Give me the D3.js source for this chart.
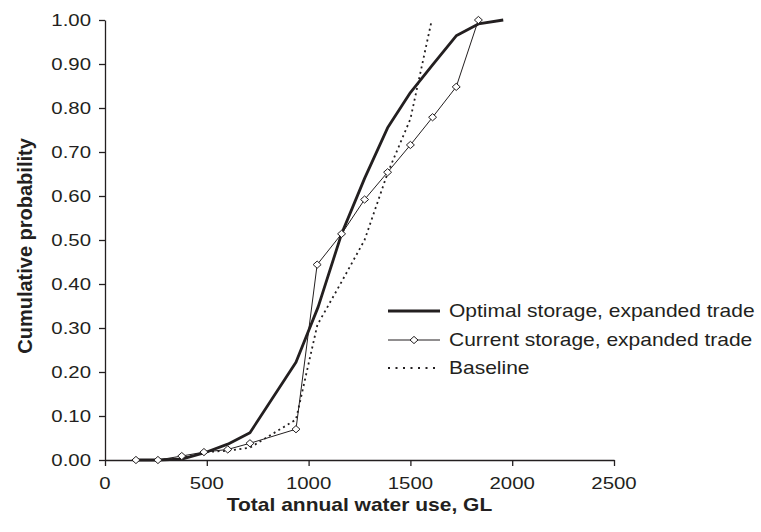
<!DOCTYPE html>
<html><head><meta charset="utf-8">
<script src="https://cdn.jsdelivr.net/npm/d3@7/dist/d3.min.js"></script>
<style>
html,body{margin:0;padding:0;background:#fff;}
text{font-family:"Liberation Sans",Arial,Helvetica,sans-serif;fill:#231f20;}
</style></head>
<body>
<svg id="chart" width="761" height="532"></svg>
<script>
const xTicks = [0, 500, 1000, 1500, 2000, 2500];
const yTicks = [0, 0.1, 0.2, 0.3, 0.4, 0.5, 0.6, 0.7, 0.8, 0.9, 1.0];

const optimalX = [152, 260, 377, 486, 603, 712, 938, 1047, 1162, 1275, 1388, 1500, 1609, 1725, 1834, 1956];
const optimalY = [0, 0, 0.002, 0.016, 0.036, 0.062, 0.222, 0.348, 0.514, 0.640, 0.755, 0.835, 0.898, 0.964, 0.991, 1.0];

const currentX = [152, 260, 377, 486, 603, 712, 938, 1042, 1162, 1275, 1388, 1500, 1609, 1725, 1834];
const currentY = [0, 0, 0.009, 0.018, 0.024, 0.038, 0.070, 0.444, 0.514, 0.592, 0.654, 0.716, 0.779, 0.848, 1.0];

const baselineX = [152, 260, 377, 486, 603, 712, 938, 1043, 1162, 1275, 1388, 1500, 1605];
const baselineY = [0, 0, 0.004, 0.018, 0.021, 0.028, 0.092, 0.307, 0.405, 0.500, 0.652, 0.775, 1.0];

const seriesNames = ["Optimal storage, expanded trade", "Current storage, expanded trade", "Baseline"];
const xTitle = "Total annual water use, GL";
const yTitle = "Cumulative probability";

const INK = "#231f20";
const SX = 1.2; // horizontal stretch of the original artwork

const svg = d3.select("#chart");
const x = d3.scaleLinear().domain([0, 2500]).range([105, 614]);
const y = d3.scaleLinear().domain([0, 1]).range([460, 20]);

// axes (lines and ticks)
const gx = svg.append("g").attr("transform", `translate(0,${y(0)})`)
  .call(d3.axisBottom(x).tickValues(xTicks).tickSize(6).tickSizeOuter(0).tickFormat(""));
const gy = svg.append("g").attr("transform", `translate(${x(0)},0)`)
  .call(d3.axisLeft(y).tickValues(yTicks).tickSize(6).tickSizeOuter(0).tickFormat(""));
[gx, gy].forEach(g => {
  g.selectAll("path,line").attr("stroke", INK).attr("stroke-width", 1.3);
  g.selectAll("text").remove();
});

// tick labels
svg.append("g").selectAll("text").data(xTicks).join("text")
  .attr("transform", d => `translate(${x(d)},488.5) scale(${SX},1)`)
  .attr("text-anchor", "middle").attr("font-size", 17)
  .text(d => d);
svg.append("g").selectAll("text").data(yTicks).join("text")
  .attr("transform", d => `translate(91,${y(d) + 6.2}) scale(${SX},1)`)
  .attr("text-anchor", "end").attr("font-size", 17)
  .text(d => d.toFixed(2));

// axis titles
svg.append("text")
  .attr("transform", `translate(${(x(0) + x(2500)) / 2},511) scale(${SX},1)`)
  .attr("text-anchor", "middle").attr("font-size", 17.5).attr("font-weight", "bold")
  .text(xTitle);
svg.append("text")
  .attr("transform", `translate(32,246) scale(1.05,1) rotate(-90)`)
  .attr("text-anchor", "middle").attr("font-size", 20).attr("font-weight", "bold")
  .text(yTitle);

const line = d3.line().x(d => x(d[0])).y(d => y(d[1]));
const zip = (a, b) => a.map((v, i) => [v, b[i]]);

// baseline (dotted)
svg.append("path").datum(zip(baselineX, baselineY))
  .attr("d", line).attr("fill", "none").attr("stroke", INK)
  .attr("stroke-width", 1.8).attr("stroke-dasharray", "2,3.5");

// current storage (thin with diamonds)
const cur = zip(currentX, currentY);
svg.append("path").datum(cur)
  .attr("d", line).attr("fill", "none").attr("stroke", INK).attr("stroke-width", 1);

// optimal storage (thick)
svg.append("path").datum(zip(optimalX, optimalY))
  .attr("d", line).attr("fill", "none").attr("stroke", INK)
  .attr("stroke-width", 2.8).attr("stroke-linejoin", "round");

const diamond = (cx, cy) => `M${cx - 4},${cy}L${cx},${cy - 3.6}L${cx + 4},${cy}L${cx},${cy + 3.6}Z`;
svg.append("g").selectAll("path").data(cur).join("path")
  .attr("d", d => diamond(x(d[0]), y(d[1])))
  .attr("fill", "#fff").attr("stroke", INK).attr("stroke-width", 1);

// legend
const legY = [311, 340, 368];
const lg = svg.append("g");
lg.append("line").attr("x1", 388).attr("x2", 440).attr("y1", legY[0]).attr("y2", legY[0])
  .attr("stroke", INK).attr("stroke-width", 2.8);
lg.append("line").attr("x1", 388).attr("x2", 440).attr("y1", legY[1]).attr("y2", legY[1])
  .attr("stroke", INK).attr("stroke-width", 1);
lg.append("path").attr("d", diamond(414, legY[1]))
  .attr("fill", "#fff").attr("stroke", INK).attr("stroke-width", 1);
lg.append("line").attr("x1", 388).attr("x2", 440).attr("y1", legY[2]).attr("y2", legY[2])
  .attr("stroke", INK).attr("stroke-width", 1.8).attr("stroke-dasharray", "2,5.5");
lg.selectAll("text").data(seriesNames).join("text")
  .attr("transform", (d, i) => `translate(449,${legY[i] + 6.2}) scale(${SX},1)`)
  .attr("font-size", 17.5)
  .text(d => d);
</script>
</body></html>
